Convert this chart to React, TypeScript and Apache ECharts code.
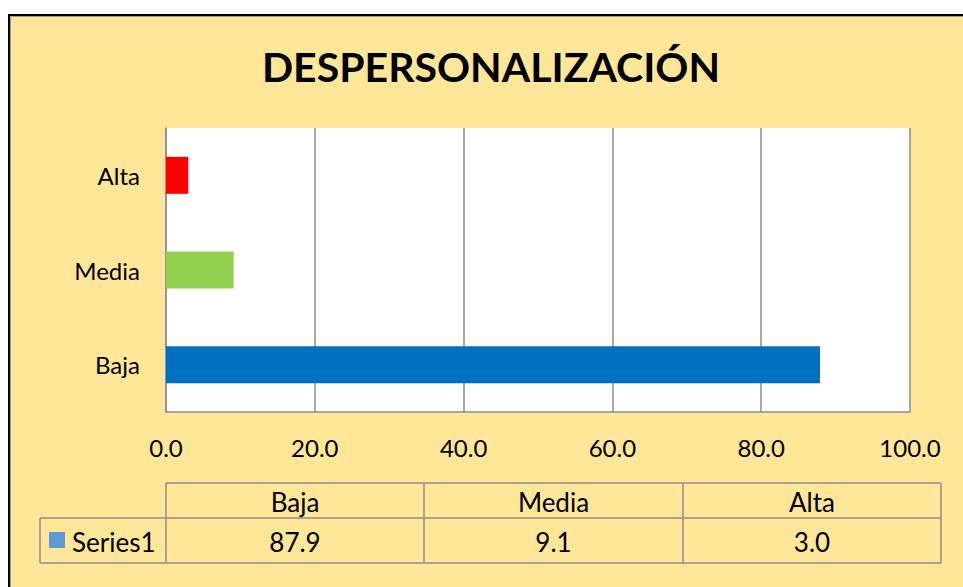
import React, { useEffect, useRef } from "react";
import * as echarts from "echarts";

const titleText = "DESPERSONALIZACIÓN";
const categories = ["Baja", "Media", "Alta"];
const values = [87.9, 9.1, 3.0];
const barColors = ["#0070C0", "#92D050", "#FF0000"];
const seriesName = "Series1";
const legendColor = "#5B9BD5";

const FONT = "Lato";

export default function App() {
  const ref = useRef<HTMLDivElement>(null);
  useEffect(() => {
    if (!ref.current) return;
    const chart = echarts.init(ref.current, null, { renderer: "svg" });

    const colX = [166, 424, 683, 941];
    const legendX = 40;
    const rowY = [483, 518, 563];
    const gridColor = "#8C8C8C";
    const graphics: any[] = [];
    // outer frame
    graphics.push({
      type: "rect",
      shape: { x: 9, y: 15, width: 1000, height: 640 },
      style: { fill: "#FFE699", stroke: "#000000", lineWidth: 2 },
      z: -10,
    });
    graphics.push({
      type: "polyline",
      shape: { points: [[10.5, 700], [10.5, 16.5], [1000, 16.5]] },
      style: { stroke: "#9A9A9A", lineWidth: 1, fill: null },
      z: -9,
    });
    // table lines
    const lines: number[][] = [];
    lines.push([colX[0], rowY[0], colX[3], rowY[0]]);
    lines.push([legendX, rowY[1], colX[3], rowY[1]]);
    lines.push([legendX, rowY[2], colX[3], rowY[2]]);
    lines.push([legendX, rowY[1], legendX, rowY[2]]);
    colX.forEach((x) => lines.push([x, rowY[0], x, rowY[2]]));
    lines.forEach((l) =>
      graphics.push({
        type: "line",
        shape: { x1: l[0], y1: l[1], x2: l[2], y2: l[3] },
        style: { stroke: gridColor, lineWidth: 1.5 },
      })
    );
    const tFont = `26px ${FONT}`;
    categories.forEach((c, i) => {
      const cx = (colX[i] + colX[i + 1]) / 2;
      graphics.push({
        type: "text",
        x: cx,
        y: (rowY[0] + rowY[1]) / 2 + 1,
        style: { text: c, fill: "#000", font: tFont, align: "center", verticalAlign: "middle" },
      });
      graphics.push({
        type: "text",
        x: cx,
        y: (rowY[1] + rowY[2]) / 2 + 1,
        style: { text: values[i].toFixed(1), fill: "#000", font: tFont, align: "center", verticalAlign: "middle" },
      });
    });
    graphics.push({
      type: "rect",
      shape: { x: 49, y: 532, width: 16, height: 16 },
      style: { fill: legendColor },
    });
    graphics.push({
      type: "text",
      x: 72,
      y: (rowY[1] + rowY[2]) / 2 + 1,
      style: { text: seriesName, fill: "#000", font: tFont, align: "left", verticalAlign: "middle" },
    });

    chart.setOption({
      animation: false,
      backgroundColor: "transparent",
      title: {
        text: titleText,
        left: 486,
        top: 41,
        textAlign: "center",
        textStyle: { fontFamily: FONT, fontWeight: "bold", fontSize: 41, color: "#000" },
      },
      grid: { left: 166, top: 128, right: 53, bottom: 175, show: true, backgroundColor: "#FFFFFF", borderWidth: 0 },
      xAxis: {
        type: "value",
        min: 0,
        max: 100,
        interval: 20,
        axisLine: { show: true, lineStyle: { color: gridColor, width: 1.5 } },
        axisTick: { show: false },
        splitLine: { show: true, lineStyle: { color: gridColor, width: 1.5 } },
        axisLabel: {
          formatter: (v: number) => v.toFixed(1),
          fontFamily: FONT,
          fontSize: 24,
          color: "#000",
          margin: 23,
        },
      },
      yAxis: {
        type: "category",
        data: categories,
        axisLine: { show: true, lineStyle: { color: gridColor, width: 1.5 } },
        axisTick: { show: false },
        axisLabel: { fontFamily: FONT, fontSize: 24, color: "#000", margin: 26 },
      },
      series: [
        {
          type: "bar",
          name: seriesName,
          barWidth: 37,
          data: values.map((v, i) => ({ value: v, itemStyle: { color: barColors[i] } })),
        },
      ],
      graphic: graphics,
    });
    return () => chart.dispose();
  }, []);
  return (
    <div
      ref={ref}
      style={{ position: "absolute", left: 0, top: 0, width: 963, height: 587, background: "#FFFFFF" }}
    />
  );
}
